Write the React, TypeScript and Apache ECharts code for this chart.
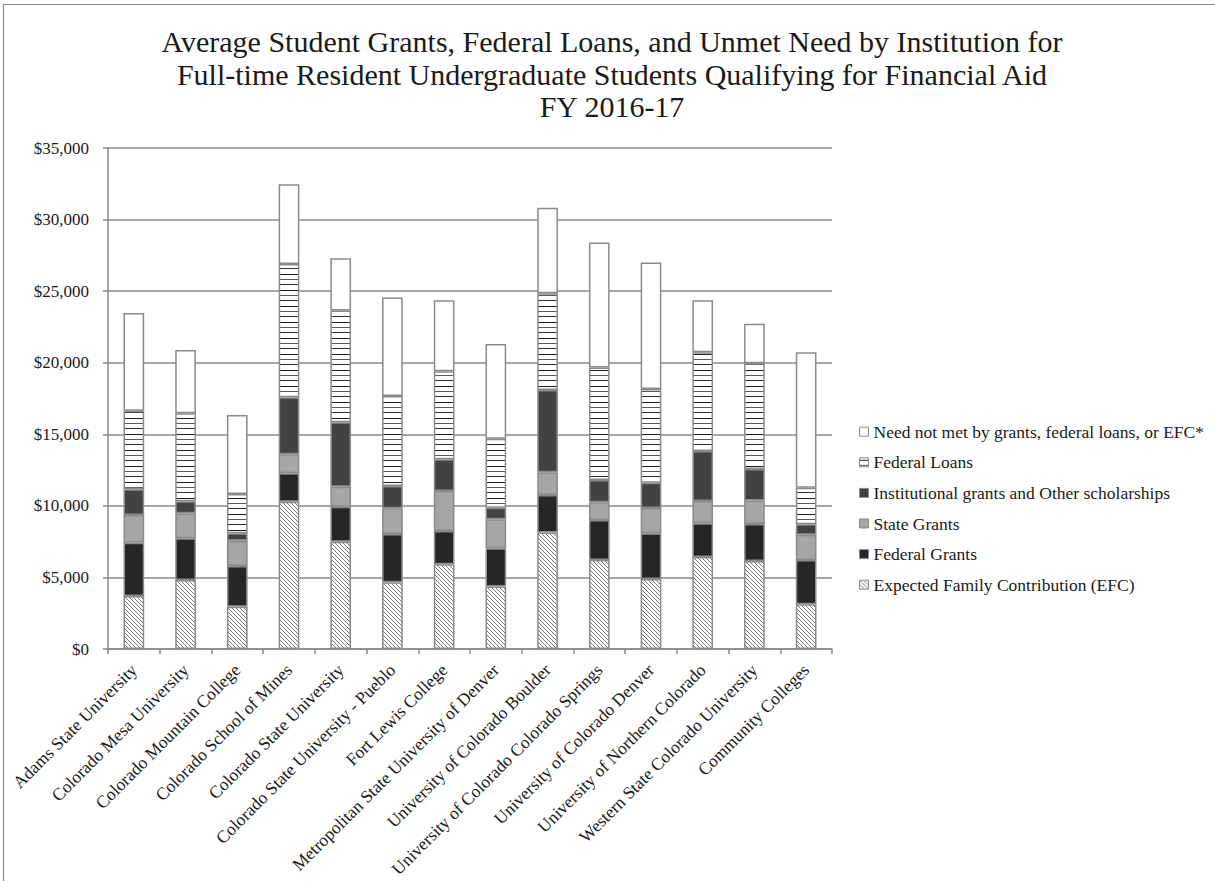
import React, { useEffect, useRef } from "react";
import * as echarts from "echarts";

const categories = [
  "Adams State University",
  "Colorado Mesa University",
  "Colorado Mountain College",
  "Colorado School of Mines",
  "Colorado State University",
  "Colorado State University - Pueblo",
  "Fort Lewis College",
  "Metropolitan State University of Denver",
  "University of Colorado Boulder",
  "University of Colorado Colorado Springs",
  "University of Colorado Denver",
  "University of Northern Colorado",
  "Western State Colorado University",
  "Community Colleges",
];

const efc = [3700, 4820, 2960, 10290, 7500, 4660, 5920, 4360, 8130, 6220, 4890, 6430, 6150, 3120];
const federalGrants = [3730, 2920, 2840, 1990, 2440, 3380, 2330, 2680, 2630, 2790, 3190, 2350, 2590, 3100];
const stateGrants = [1930, 1740, 1770, 1320, 1400, 1790, 2790, 2020, 1590, 1240, 1770, 1560, 1630, 1770];
const institutional = [1800, 840, 510, 3990, 4500, 1560, 2220, 810, 5750, 1560, 1770, 3500, 2210, 720];
const federalLoans = [5490, 6150, 2750, 9310, 7800, 6290, 6140, 4810, 6760, 7850, 6550, 6890, 7380, 2560];
const unmetNeed = [6830, 4420, 5520, 5570, 3660, 6870, 4970, 6630, 5960, 8730, 8830, 3640, 2770, 9460];

const yTicks = [0, 5000, 10000, 15000, 20000, 25000, 30000, 35000];

const titleLines = [
  "Average Student Grants, Federal Loans, and Unmet Need by Institution for",
  "Full-time Resident Undergraduate Students Qualifying for Financial Aid",
  "FY 2016-17",
];

const seriesNames = [
  "Expected Family Contribution (EFC)",
  "Federal Grants",
  "State Grants",
  "Institutional grants and Other scholarships",
  "Federal Loans",
  "Need not met by grants, federal loans, or EFC*",
];

const FONT = "Liberation Serif";

function hatchCanvas(): HTMLCanvasElement {
  const c = document.createElement("canvas");
  c.width = 4;
  c.height = 4;
  const ctx = c.getContext("2d")!;
  ctx.fillStyle = "#ffffff";
  ctx.fillRect(0, 0, 4, 4);
  ctx.fillStyle = "#7a7a7a";
  for (let i = 0; i < 4; i++) ctx.fillRect(i, i, 1, 1);
  return c;
}

function stripeCanvas(): HTMLCanvasElement {
  const c = document.createElement("canvas");
  c.width = 4;
  c.height = 16;
  const ctx = c.getContext("2d")!;
  ctx.fillStyle = "#ffffff";
  ctx.fillRect(0, 0, 4, 16);
  ctx.fillStyle = "#1e1e1e";
  ctx.fillRect(0, 2, 4, 1);
  ctx.fillStyle = "#5a5a5a";
  ctx.fillRect(0, 7, 4, 1);
  ctx.fillStyle = "#303030";
  ctx.fillRect(0, 12, 4, 1);
  return c;
}

export default function App() {
  const ref = useRef<HTMLDivElement>(null);

  useEffect(() => {
    if (!ref.current) return;
    const chart = echarts.init(ref.current, undefined, { renderer: "svg" });

    const hatch = { image: hatchCanvas(), repeat: "repeat" } as any;
    const stripes = { image: stripeCanvas(), repeat: "repeat" } as any;
    const fills: any[] = [hatch, "#262626", "#a6a6a6", "#424242", stripes, "#ffffff"];
    const values = [efc, federalGrants, stateGrants, institutional, federalLoans, unmetNeed];

    const series = seriesNames.map((name, i) => ({
      name,
      type: "bar",
      stack: "total",
      barWidth: "40%",
      data: values[i],
      itemStyle: {
        color: fills[i],
        borderColor: "#8a8a8a",
        borderWidth: 1.5,
      },
      emphasis: { disabled: true },
    }));

    const titleY = [41, 74, 106.5];
    const titleGraphics = titleLines.map((t, i) => ({
      type: "text",
      silent: true,
      x: 612,
      y: titleY[i],
      style: {
        text: t,
        fontFamily: FONT,
        fontSize: 30,
        fill: "#1a1a1a",
        align: "center",
        verticalAlign: "middle",
      },
    }));

    chart.setOption({
      animation: false,
      backgroundColor: "#ffffff",
      legend: {
        orient: "vertical",
        left: 859,
        top: 421.7,
        padding: 0,
        icon: "rect",
        itemWidth: 9,
        itemHeight: 9,
        itemGap: 10.6,
        data: [...seriesNames].reverse(),
        textStyle: {
          fontFamily: FONT,
          fontSize: 17.5,
          lineHeight: 20,
          color: "#1a1a1a",
        },
        itemStyle: { borderColor: "#8a8a8a", borderWidth: 1 },
        selectedMode: false,
      },
      grid: {
        left: 108,
        right: 1215 - 832,
        top: 148,
        bottom: 881 - 649,
      },
      xAxis: {
        type: "category",
        data: categories,
        boundaryGap: true,
        axisLine: { show: true, lineStyle: { color: "#8a8a8a", width: 1.5 } },
        axisTick: { show: true, length: 5, interval: 0, lineStyle: { color: "#8a8a8a", width: 1.5 } },
        axisLabel: {
          interval: 0,
          rotate: 45,
          margin: 18,
          fontFamily: FONT,
          fontSize: 17.5,
          color: "#1a1a1a",
        },
      },
      yAxis: {
        type: "value",
        min: yTicks[0],
        max: yTicks[yTicks.length - 1],
        interval: 5000,
        axisLine: { show: true, lineStyle: { color: "#8a8a8a", width: 1.5 } },
        axisTick: { show: true, length: 5, lineStyle: { color: "#8a8a8a", width: 1.5 } },
        splitLine: { show: true, lineStyle: { color: "#8a8a8a", width: 1.5 } },
        axisLabel: {
          margin: 19,
          fontFamily: FONT,
          fontSize: 17,
          color: "#1a1a1a",
          formatter: (v: number) => "$" + v.toLocaleString("en-US"),
        },
      },
      graphic: [
        {
          type: "rect",
          silent: true,
          z: -10,
          shape: { x: 3.5, y: 4.5, width: 1400, height: 1000 },
          style: { fill: "none", stroke: "#8c8c8c", lineWidth: 1.2 },
        },
        ...titleGraphics,
      ],
      series,
    });

    return () => chart.dispose();
  }, []);

  return (
    <div
      ref={ref}
      style={{ position: "absolute", left: 0, top: 0, width: 1215, height: 881 }}
    />
  );
}
